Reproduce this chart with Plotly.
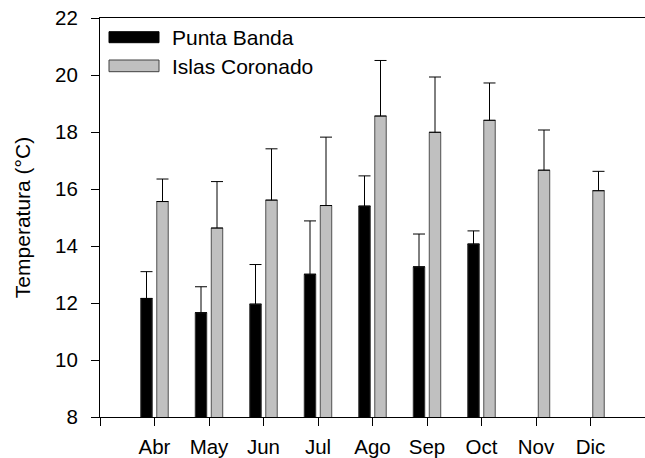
import plotly.graph_objects as go

# ---- data ----
months = ["Abr", "May", "Jun", "Jul", "Ago", "Sep", "Oct", "Nov", "Dic"]
punta_banda = [12.16, 11.66, 11.96, 13.01, 15.40, 13.27, 14.07, None, None]
punta_banda_err = [0.94, 0.91, 1.39, 1.87, 1.06, 1.15, 0.46, None, None]
islas_coronado = [15.56, 14.63, 15.61, 15.42, 18.56, 17.99, 18.41, 16.66, 15.94]
islas_coronado_err = [0.79, 1.63, 1.80, 2.40, 1.95, 1.94, 1.31, 1.41, 0.68]
y_ticks = [8, 10, 12, 14, 16, 18, 20, 22]

# ---- layout constants ----
W, H = 645, 458
ML, MR, MT, MB = 100, 0, 18, 41
FONT = "Arial, 'Liberation Sans', sans-serif"

x_pos = list(range(1, len(months) + 1))
tick_vals = list(range(0, len(months) + 2))
tick_text = [""] + months + [""]


def px_to_paper(px, py):
    return (px - ML) / (W - ML - MR), 1 - (py - MT) / (H - MT - MB)


fig = go.Figure()
fig.add_trace(go.Bar(
    name="Punta Banda", x=x_pos, y=punta_banda,
    marker=dict(color="#000000", line=dict(color="#303030", width=1)),
    error_y=dict(type="data", symmetric=False, array=punta_banda_err,
                 arrayminus=[0] * len(months), color="#000000",
                 thickness=1, width=6),
))
fig.add_trace(go.Bar(
    name="Islas Coronado", x=x_pos, y=islas_coronado,
    marker=dict(color="#c0c0c0", line=dict(color="#505050", width=1)),
    error_y=dict(type="data", symmetric=False, array=islas_coronado_err,
                 arrayminus=[0] * len(months), color="#000000",
                 thickness=1, width=6),
))

# ---- manual legend (wide swatches as in the reference) ----
legend_items = [("Punta Banda", "#000000", "#000000", 31.7, 42.7, 37.5),
                ("Islas Coronado", "#c0c0c0", "#404040", 60.0, 71.7, 66.0)]
shapes = []
annotations = []
for name, fill, edge, y0, y1, yt in legend_items:
    x0p, y0p = px_to_paper(109, y1)
    x1p, y1p = px_to_paper(159, y0)
    shapes.append(dict(type="rect", xref="paper", yref="paper",
                       x0=x0p, x1=x1p, y0=y0p, y1=y1p,
                       fillcolor=fill, line=dict(color=edge, width=1)))
    tx, ty = px_to_paper(170, yt)
    annotations.append(dict(text=name, xref="paper", yref="paper", x=tx, y=ty,
                            xanchor="left", yanchor="middle", showarrow=False,
                            font=dict(family=FONT, size=21, color="#000000")))

fig.update_layout(
    width=W, height=H,
    margin=dict(l=ML, r=MR, t=MT, b=MB, pad=0, autoexpand=False),
    paper_bgcolor="white", plot_bgcolor="white",
    barmode="group", bargap=0.413, bargroupgap=0.285,
    showlegend=False, hovermode=False,
    font=dict(family=FONT, size=20, color="#000000"),
    shapes=shapes, annotations=annotations,
    xaxis=dict(range=[0, len(months) + 1], tickmode="array",
               tickvals=tick_vals, ticktext=tick_text, automargin=False,
               showline=True, linecolor="#000000", linewidth=1, mirror=True,
               ticks="outside", ticklen=8, tickwidth=1, tickcolor="#000000",
               showgrid=False, zeroline=False, ticklabelstandoff=3,
               tickfont=dict(family=FONT, size=20.5)),
    yaxis=dict(range=[8, 22], tickmode="array", tickvals=y_ticks,
               automargin=False,
               showline=True, linecolor="#000000", linewidth=1,
               ticks="outside", ticklen=8, tickwidth=1, tickcolor="#000000",
               showgrid=False, zeroline=False, ticklabelstandoff=9,
               tickfont=dict(family=FONT, size=20.5),
               title=dict(text="Temperatura (°C)", standoff=18,
                          font=dict(family=FONT, size=21))),
)

fig.write_html(
    "out.html",
    config=dict(displayModeBar=False, staticPlot=True),
    post_script="document.body.style.margin='0';"
                "document.body.style.overflow='hidden';",
)
